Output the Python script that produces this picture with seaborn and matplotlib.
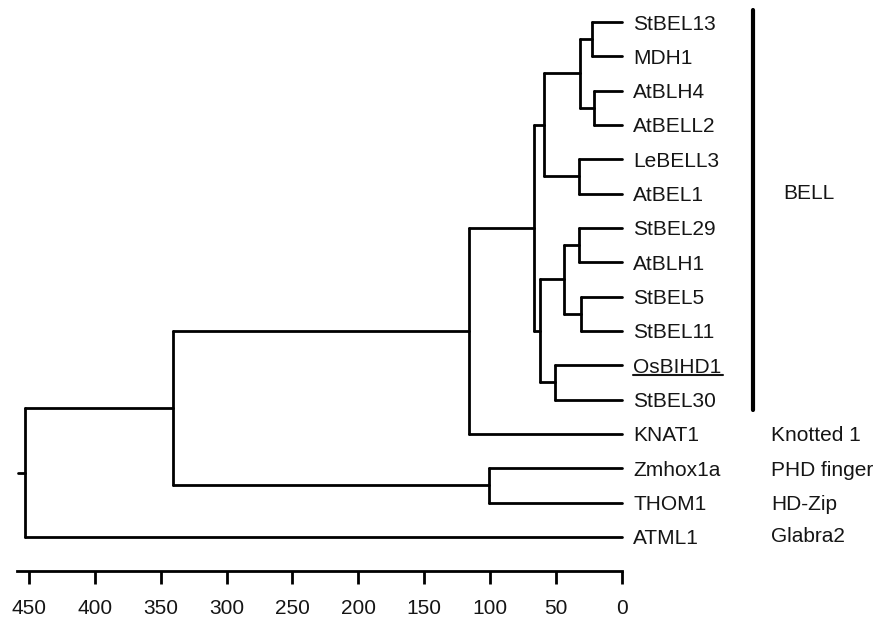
import pandas as pd
import matplotlib
matplotlib.use('Agg')
import matplotlib.pyplot as plt
import seaborn as sns

# Leaves, top to bottom
leaves = ['StBEL13', 'MDH1', 'AtBLH4', 'AtBELL2', 'LeBELL3', 'AtBEL1',
          'StBEL29', 'AtBLH1', 'StBEL5', 'StBEL11', 'OsBIHD1', 'StBEL30',
          'KNAT1', 'Zmhox1a', 'THOM1', 'ATML1']

node_names = ['n1', 'n2', 'n3', 'n4', 'n5', 'n6', 'n7', 'n8',
              'n9', 'n10', 'n11', 'n12', 'n13', 'n14', 'n15']
left_child = ['StBEL13', 'AtBLH4', 'n1', 'LeBELL3', 'n3', 'StBEL29', 'StBEL5', 'n6',
              'OsBIHD1', 'n8', 'n5', 'n11', 'Zmhox1a', 'n12', 'n14']
right_child = ['MDH1', 'AtBELL2', 'n2', 'AtBEL1', 'n4', 'AtBLH1', 'StBEL11', 'n7',
               'StBEL30', 'n9', 'n10', 'KNAT1', 'THOM1', 'n13', 'ATML1']
node_height = [23, 21, 32, 32.5, 59, 33, 31, 44, 51, 62, 67, 116, 101, 341, 453]
root_stub = 5

# Group annotations
group_leaves = ['KNAT1', 'Zmhox1a', 'THOM1', 'ATML1']
group_labels = ['Knotted 1', 'PHD finger', 'HD-Zip', 'Glabra2']
bell_first, bell_last = 'StBEL13', 'StBEL30'

x_ticks = [450, 400, 350, 300, 250, 200, 150, 100, 50, 0]

# ---- positions
ypos = {name: i for i, name in enumerate(leaves)}
hpos = {name: 0 for name in leaves}
for n, l, r, h in zip(node_names, left_child, right_child, node_height):
    ypos[n] = (ypos[l] + ypos[r]) / 2
    hpos[n] = h

rows = []
seg = 0
for n, l, r, h in zip(node_names, left_child, right_child, node_height):
    # vertical
    rows += [(seg, h, ypos[l]), (seg, h, ypos[r])]
    seg += 1
    for c in (l, r):
        rows += [(seg, hpos[c], ypos[c]), (seg, h, ypos[c])]
        seg += 1
root = node_names[-1]
rows += [(seg, hpos[root], ypos[root]), (seg, hpos[root] + root_stub, ypos[root])]
segs = pd.DataFrame(rows, columns=['seg', 'x', 'y'])

# ---- drawing
sns.set_style('white')
plt.rcParams['font.family'] = ['Liberation Sans', 'DejaVu Sans']
FS = 15
TXT = '#151515'

W, H = 879, 618
fig = plt.figure(figsize=(W / 100, H / 100), dpi=100)
px0, py_axis = 622.0, 571.0   # pixel of x=0 and of the axis line
sx = 1.318                    # pixels per unit
y0, dy = 22.0, 34.33          # first leaf pixel row, leaf spacing
ax = fig.add_axes([0, (H - py_axis) / H, 1, py_axis / H])
ax.set_xlim(px0 / sx, (px0 - W) / sx)
ax.set_ylim((py_axis - y0) / dy, -y0 / dy)

sns.lineplot(data=segs, x='x', y='y', units='seg', estimator=None, sort=False,
             color='black', lw=2, ax=ax, legend=False)

label_objs = {}
for name in leaves:
    t = ax.annotate(name, (0, ypos[name]), xytext=(8, 0), textcoords='offset points',
                    ha='left', va='center_baseline', fontsize=FS, color=TXT)
    label_objs[name] = t

gx = (px0 - 771) / sx
for name, lab in zip(group_leaves, group_labels):
    dyl = -0.08 if name == 'ATML1' else 0
    ax.text(gx, ypos[name] + dyl, lab, ha='left', va='center_baseline',
            fontsize=FS, color=TXT)

# BELL bracket
bx = (px0 - 753) / sx
ax.plot([bx, bx], [ypos[bell_first] - 0.35, ypos[bell_last] + 0.3], color='black', lw=3)
ax.text((px0 - 783) / sx, (ypos[bell_first] + ypos[bell_last]) / 2 - 0.55, 'BELL',
        ha='left', va='center_baseline', fontsize=FS, color=TXT)

# axis
for s in ['top', 'right', 'left']:
    ax.spines[s].set_visible(False)
ax.spines['bottom'].set_bounds(0, 459)
ax.spines['bottom'].set_linewidth(2)
ax.spines['bottom'].set_color('black')
ax.set_xticks(x_ticks)
ax.set_xticklabels([str(v) for v in x_ticks])
ax.tick_params(axis='x', direction='out', length=9, width=2, pad=11,
               labelsize=FS, labelcolor=TXT, color='black', bottom=True)
ax.set_yticks([])
ax.set_xlabel('')
ax.set_ylabel('')

# underline OsBIHD1
fig.canvas.draw()
bb = label_objs['OsBIHD1'].get_window_extent()
inv = ax.transData.inverted()
(xa, ya), (xb, _) = inv.transform([(bb.x0, bb.y0 + 2), (bb.x1 + 2, bb.y0 + 2)])
ax.plot([xa, xb], [ya, ya], color=TXT, lw=1.5)

fig.savefig('out.png', dpi=100)
